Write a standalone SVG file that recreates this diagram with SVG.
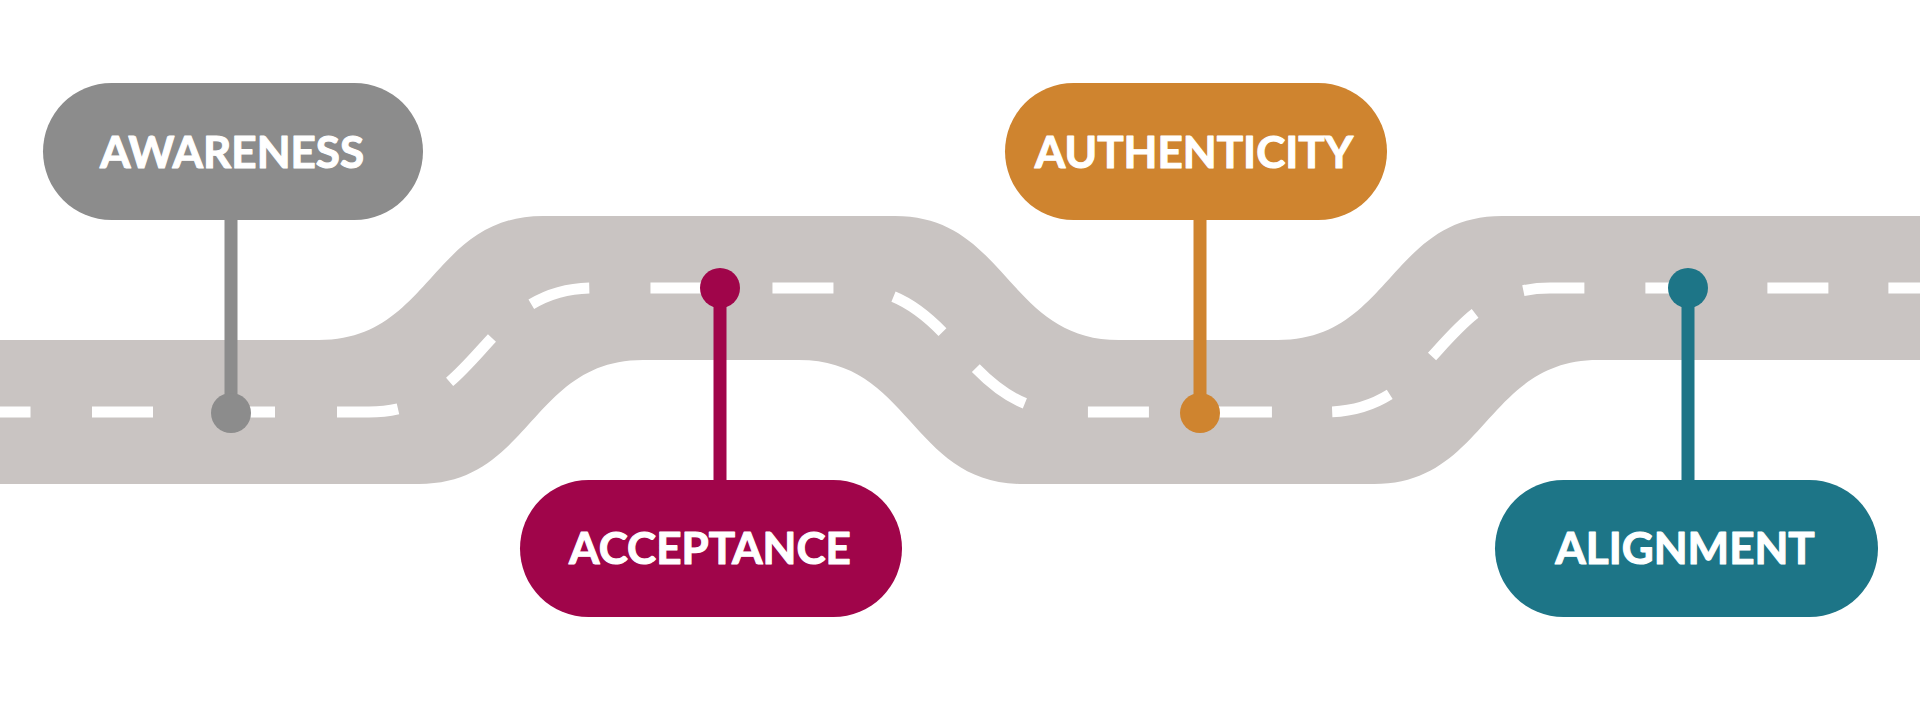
<svg xmlns="http://www.w3.org/2000/svg" width="1920" height="710" viewBox="0 0 1920 710">
<style>
.road{fill:#c9c4c2}
.lane{fill:none;stroke:#ffffff;stroke-width:11;stroke-dasharray:30.5 61.5 61 61 61 62 61 59 61 52 61 61 61 61 61 61 61 49 61 64 61 62 61 60 61 57 61 54 61 61 61 61 61 60 61 100}
.pill-text{font-family:Lato,"Open Sans","Liberation Sans",sans-serif;font-weight:700;font-size:44px;fill:#ffffff;stroke:#ffffff;stroke-width:1.1;stroke-linejoin:round;text-anchor:middle}
.stem{stroke-width:13;fill:none}
.gray{fill:#8c8c8c;stroke:#8c8c8c}
.mag{fill:#a0054a;stroke:#a0054a}
.ora{fill:#cf842f;stroke:#cf842f}
.teal{fill:#1d7587;stroke:#1d7587}
.pill{stroke:none}
.dot{stroke:none}
</style>
<rect width="1920" height="710" fill="#ffffff"/>
<g id="road">
<path class="road" d="M0,340 H319 C431,340 431,216 543,216 H895 C1007,216 1007,340 1119,340 H1278 C1390,340 1390,216 1502,216 H1920 V360 H1598 C1486,360 1486,484 1374,484 H1023 C911,484 911,360 799,360 H643 C531,360 531,484 419,484 H0 Z"/>
<path class="lane" d="M0,412 H369 C481,412 481,288 593,288 H847 C959,288 959,412 1071,412 H1326 C1438,412 1438,288 1550,288 H1920"/>
</g>
<g id="connectors">
<line class="stem gray" x1="231" y1="220" x2="231" y2="413"/>
<circle class="dot gray" cx="231" cy="413" r="20"/>
<line class="stem mag" x1="720" y1="288" x2="720" y2="481"/>
<circle class="dot mag" cx="720" cy="288" r="20"/>
<line class="stem ora" x1="1200" y1="220" x2="1200" y2="413"/>
<circle class="dot ora" cx="1200" cy="413" r="20"/>
<line class="stem teal" x1="1688" y1="288" x2="1688" y2="481"/>
<circle class="dot teal" cx="1688" cy="288" r="20"/>
</g>
<g id="awareness">
<rect class="pill gray" x="43" y="83" width="380" height="137" rx="68.5"/>
<text class="pill-text" x="232" y="168">AWARENESS</text>
</g>
<g id="acceptance">
<rect class="pill mag" x="520" y="480" width="382" height="137" rx="68.5"/>
<text class="pill-text" x="710" y="564">ACCEPTANCE</text>
</g>
<g id="authenticity">
<rect class="pill ora" x="1005" y="83" width="382" height="137" rx="68.5"/>
<text class="pill-text" x="1194" y="168">AUTHENTICITY</text>
</g>
<g id="alignment">
<rect class="pill teal" x="1495" y="480" width="383" height="137" rx="68.5"/>
<text class="pill-text" x="1685" y="564">ALIGNMENT</text>
</g>
</svg>
